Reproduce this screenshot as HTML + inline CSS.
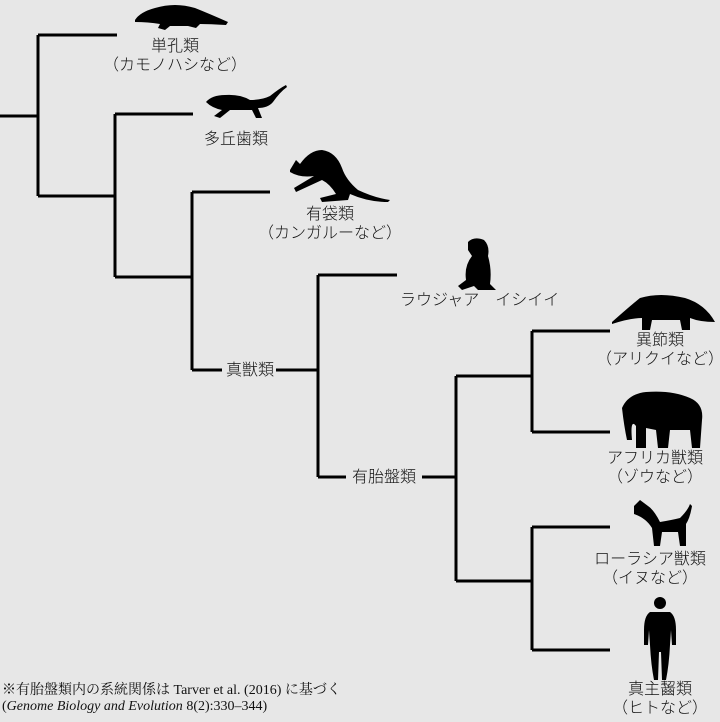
<!DOCTYPE html>
<html><head><meta charset="utf-8"><style>
html,body{margin:0;padding:0}
body{width:720px;height:722px;background:#e7e7e7;position:relative;overflow:hidden;font-family:"Liberation Sans","Noto Sans CJK JP",sans-serif;color:#111}
.t{position:absolute;font-size:16px;line-height:19px;text-align:center;white-space:nowrap;font-weight:300}
.f{position:absolute;left:2px;font-family:"Liberation Serif","Noto Serif CJK SC",serif;font-size:14px;line-height:16px;white-space:nowrap}
</style></head><body>
<svg width="720" height="722" style="position:absolute;left:0;top:0">
<g stroke="#000" stroke-width="3" fill="none">
<path d="M0 116H38M38 35V196M38 35H117M38 196H115"/>
<path d="M115 114V277M115 114H193M115 277H192"/>
<path d="M192 192V370M192 192H270M192 370H222M276 370H318"/>
<path d="M318 275V477M318 275H397M318 477H346M422 477H456"/>
<path d="M456 376V581M456 376H532M456 581H532"/>
<path d="M532 331V432M532 331H610M532 432H610"/>
<path d="M532 527V650M532 527H610M532 650H610"/>
</g>
<g fill="#000">
<path d="M135 20 Q140 12 155 8 Q175 2 195 8 Q210 14 228 22 L226 25 Q210 24 200 24 L196 28 L188 26 L170 26 L165 30 L158 28 L160 24 Q148 22 135 22Z"/>
<path d="M206 102 Q212 95 225 95 Q240 94 250 100 Q262 100 270 96 Q280 88 286 85 L287 87 Q280 92 273 102 Q268 108 258 108 L262 118 L256 118 L252 110 L230 110 L220 118 L214 116 L222 110 Q212 108 206 102Z"/>
<path d="M290 170 L296 160 L300 164 Q310 150 322 150 Q336 152 342 168 Q346 180 358 190 Q375 198 390 200 L388 202 Q368 202 350 194 L348 200 L322 202 L320 198 L336 194 Q330 184 322 180 L296 192 L294 188 L314 176 Q300 178 290 172Z"/>
<path d="M468 242 Q474 236 484 240 Q490 246 488 256 Q492 270 490 284 L496 290 L478 290 L474 286 L462 290 L458 286 L466 280 Q464 266 472 256 L468 250Z"/>
<path d="M612 322 Q630 306 640 298 Q660 292 685 298 Q705 304 715 322 Q700 322 690 318 L690 330 L682 330 L680 320 L652 320 L650 330 L642 330 L642 318 Q630 318 612 324Z"/>
<path d="M622 408 Q628 394 646 392 Q672 390 690 398 Q704 404 702 420 L700 448 L692 448 L690 430 L670 430 L668 448 L658 448 L656 430 L646 428 L646 448 L636 448 L636 426 Q630 418 632 440 L627 440 Q624 426 622 408Z"/>
<path d="M634 506 L640 500 L648 506 Q654 510 660 522 Q672 520 680 518 Q688 510 690 504 L692 506 Q690 518 686 524 L686 546 L680 546 L678 532 L662 532 L660 546 L654 546 L652 528 Q646 518 634 514Z"/>
<circle cx="660" cy="603" r="6"/>
<path d="M650 612 H670 Q676 616 676 630 L676 645 L672 645 L671 630 L670 645 Q669 665 666 680 L662 680 L661 652 L659 652 L658 680 L654 680 Q651 665 650 645 L649 630 L648 645 L644 645 L644 630 Q644 616 650 612Z"/>
</g>
</svg>
<div class="t" style="left:100px;top:37px;width:150px">単孔類<br>（カモノハシなど）</div>
<div class="t" style="left:186px;top:130px;width:100px">多丘歯類</div>
<div class="t" style="left:250px;top:205px;width:160px">有袋類<br>（カンガルーなど）</div>
<div class="t" style="left:220px;top:361px;width:60px">真獣類</div>
<div class="t" style="left:400px;top:291px;text-align:left">ラウジャア　イシイイ</div>
<div class="t" style="left:344px;top:468px;width:80px">有胎盤類</div>
<div class="t" style="left:590px;top:331px;width:140px">異節類<br>（アリクイなど）</div>
<div class="t" style="left:585px;top:449px;width:140px">アフリカ獣類<br>（ゾウなど）</div>
<div class="t" style="left:580px;top:550px;width:140px">ローラシア獣類<br>（イヌなど）</div>
<div class="t" style="left:590px;top:680px;width:140px">真主齧類<br>（ヒトなど）</div>
<div class="f" style="top:683px">※有胎盤類内の系統関係は Tarver et al. (2016) に基づく</div>
<div class="f" style="top:699px">(<i>Genome Biology and Evolution</i> 8(2):330–344)</div>
</body></html>
